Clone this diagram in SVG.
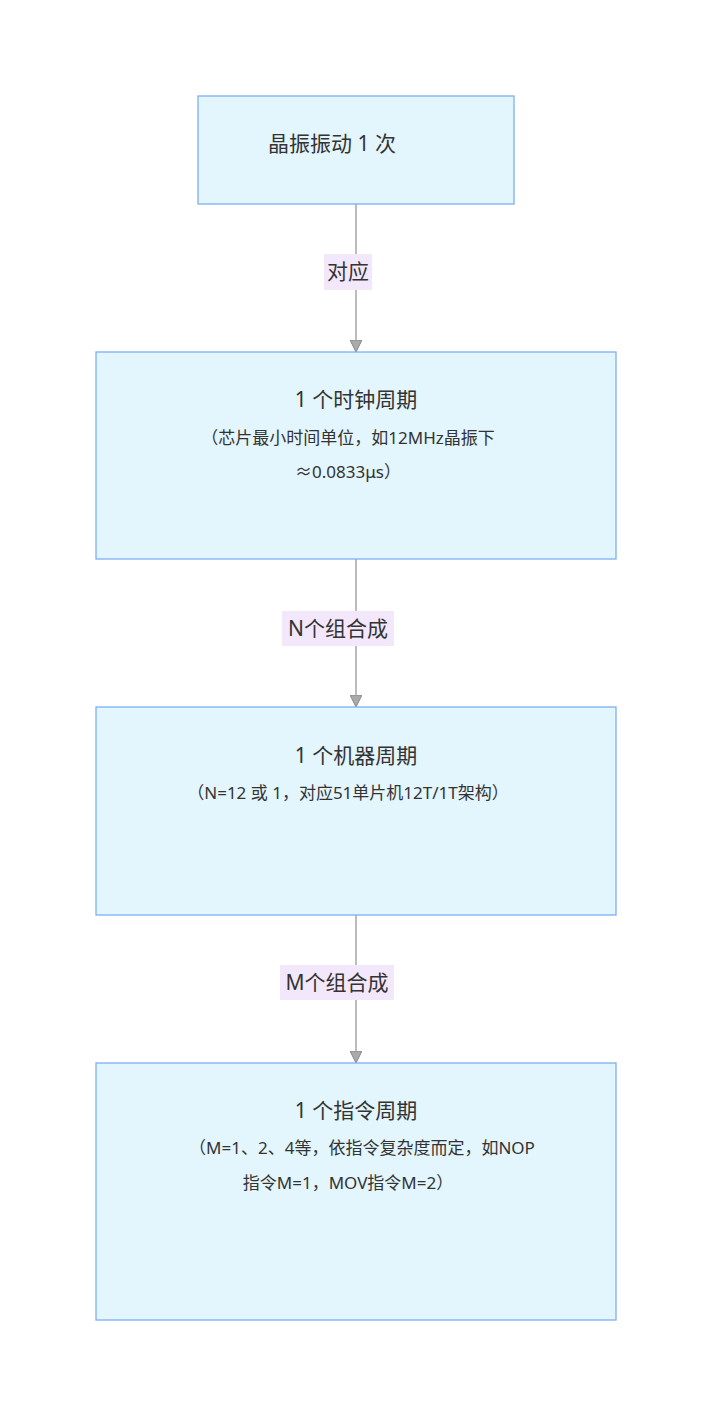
<svg xmlns="http://www.w3.org/2000/svg" width="712" height="1416" viewBox="0 0 712 1416">
<style>
.n{fill:#e3f5fd;stroke:#7daef5;stroke-width:1.3}
.t{font-family:"Noto Sans","Noto Sans CJK SC",sans-serif;fill:#333;text-anchor:middle}
.h{font-size:21px}.s{font-size:17px}
.e{stroke:#999;stroke-width:1.3;fill:none}
.lb{fill:#f3e8fb}
.l{font-family:"Noto Sans","Noto Sans CJK SC",sans-serif;fill:#333;font-size:21px;text-anchor:middle}
</style>
<defs><marker id="a" viewBox="0 0 12 12" refX="11" refY="6" markerWidth="12" markerHeight="12" markerUnits="userSpaceOnUse" orient="auto"><path d="M0,0L12,6L0,12z" fill="#aaa" stroke="#888" stroke-width="1"/></marker></defs>
<rect width="712" height="1416" fill="#fff"/>
<g id="edges">
<line class="e" x1="356" y1="204" x2="356" y2="351" marker-end="url(#a)"/>
<line class="e" x1="356" y1="559" x2="356" y2="706" marker-end="url(#a)"/>
<line class="e" x1="356" y1="915" x2="356" y2="1062" marker-end="url(#a)"/>
<rect class="lb" x="324" y="254" width="48" height="36"/><text class="l" x="348" y="279">对应</text>
<rect class="lb" x="282" y="611" width="112" height="35"/><text class="l" x="338" y="636">N个组合成</text>
<rect class="lb" x="280" y="965" width="114" height="35"/><text class="l" x="337" y="990">M个组合成</text>
</g>
<g id="n1"><rect class="n" x="198" y="96" width="316" height="108"/><text class="t h" x="332" y="151">晶振振动 1 次</text></g>
<g id="n2"><rect class="n" x="96" y="352" width="520" height="207"/><text class="t h" x="356" y="407">1 个时钟周期</text><text class="t s" x="348" y="444">（芯片最小时间单位，如12MHz晶振下</text><text class="t s" x="348" y="478">≈0.0833μs）</text></g>
<g id="n3"><rect class="n" x="96" y="707" width="520" height="208"/><text class="t h" x="356" y="763">1 个机器周期</text><text class="t s" x="348" y="799">（N=12 或 1，对应51单片机12T/1T架构）</text></g>
<g id="n4"><rect class="n" x="96" y="1063" width="520" height="257"/><text class="t h" x="356" y="1118">1 个指令周期</text><text class="t s" x="362" y="1154">（M=1、2、4等，依指令复杂度而定，如NOP</text><text class="t s" x="348" y="1189">指令M=1，MOV指令M=2）</text></g>
</svg>
